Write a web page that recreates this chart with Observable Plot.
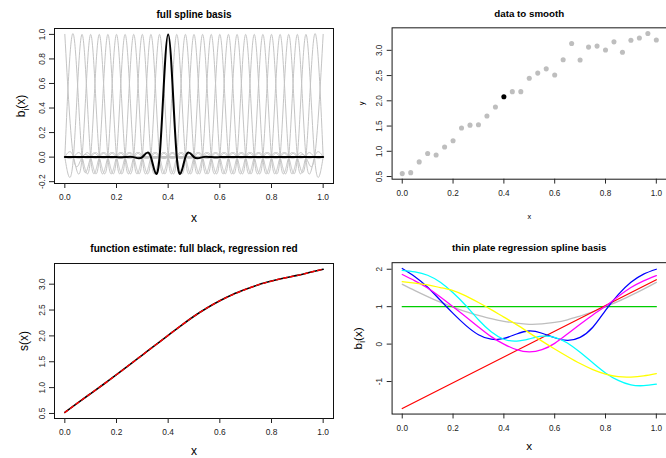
<!DOCTYPE html>
<html><head><meta charset="utf-8">
<script src="https://cdn.jsdelivr.net/npm/d3@7"></script>
<script src="https://cdn.jsdelivr.net/npm/@observablehq/plot@0.6"></script>
<style>
body{margin:0;background:#fff;}
#wrap{position:relative;width:666px;height:458px;overflow:hidden;background:#fff;}
.panel{position:absolute;}
</style></head><body><div id="wrap"></div>
<script>
// ---------- data ----------
// knots / data x positions (31 evenly spaced points)
const knotX = [0,0.0333,0.0667,0.1,0.1333,0.1667,0.2,0.2333,0.2667,0.3,0.3333,0.3667,0.4,0.4333,0.4667,0.5,0.5333,0.5667,0.6,0.6333,0.6667,0.7,0.7333,0.7667,0.8,0.8333,0.8667,0.9,0.9333,0.9667,1];
// full spline basis: each basis function is 1 at its own knot and 0 at the others
const basisAtOwnKnot = 1.0;
const basisAtOtherKnots = 0.0;
const highlightIndex = 12; // basis at x = 0.4 drawn in black

// data to smooth
const dataY = [0.558,0.577,0.79,0.957,0.925,1.086,1.209,1.46,1.518,1.524,1.698,1.879,2.079,2.182,2.182,2.446,2.549,2.633,2.51,2.813,3.135,2.807,3.064,3.084,3.006,3.168,2.961,3.2,3.245,3.335,3.206];

// function estimate
const fitX = [0,0.05,0.1,0.15,0.2,0.25,0.3,0.35,0.4,0.45,0.5,0.55,0.6,0.65,0.7,0.75,0.8,0.85,0.9,0.95,1];
const fitFull = [0.52,0.705,0.885,1.065,1.25,1.44,1.63,1.82,2.01,2.20,2.38,2.54,2.68,2.80,2.90,2.99,3.06,3.12,3.17,3.23,3.29];
const fitRegression = [0.52,0.705,0.885,1.065,1.25,1.44,1.63,1.82,2.01,2.20,2.38,2.54,2.68,2.80,2.90,2.99,3.06,3.12,3.17,3.23,3.29];

// thin plate regression spline basis
const tprsX = fitX;
const tprsGreenX = [0,1], tprsGreen = [1,1];
const tprsRedX = [0,1], tprsRed = [-1.72,1.72];
const tprsGray = [1.60,1.43,1.27,1.12,0.99,0.87,0.77,0.68,0.61,0.56,0.53,0.54,0.58,0.65,0.75,0.86,1.0,1.14,1.30,1.47,1.65];
const tprsBlue = [2.02,1.80,1.52,1.17,0.82,0.50,0.25,0.13,0.15,0.27,0.35,0.29,0.17,0.10,0.18,0.45,0.90,1.32,1.65,1.87,2.0];
const tprsCyan = [1.97,1.93,1.84,1.65,1.37,1.03,0.65,0.33,0.13,0.08,0.14,0.21,0.18,0.03,-0.22,-0.50,-0.77,-0.97,-1.09,-1.11,-1.07];
const tprsYellow = [1.67,1.63,1.58,1.51,1.43,1.29,1.11,0.92,0.72,0.52,0.30,0.08,-0.13,-0.33,-0.52,-0.68,-0.80,-0.87,-0.88,-0.85,-0.79];
const tprsMagenta = [1.86,1.69,1.50,1.26,1.0,0.73,0.46,0.20,0.0,-0.15,-0.21,-0.15,0.02,0.27,0.53,0.78,1.01,1.27,1.51,1.69,1.83];

const xTicks = [0,0.2,0.4,0.6,0.8,1.0];
const ticksP1 = [-0.2,0,0.2,0.4,0.6,0.8,1.0];
const ticksP2 = [0.5,1.0,1.5,2.0,2.5,3.0];
const ticksP4 = [-1,0,1,2];

// ---------- helpers ----------
const FONT = "'Liberation Sans', Arial, Helvetica, sans-serif";
const toRows = (xs, ys) => xs.map((x, i) => ({x, y: ys[i]}));

function makePanel(c) {
  const svg = Plot.plot({
    width: c.width, height: c.height,
    marginLeft: c.ml, marginRight: 0, marginTop: c.mt, marginBottom: c.mb,
    x: {domain: [-0.04, 1.04]}, y: {domain: c.yDomain},
    style: {fontFamily: FONT, fontSize: "8.4px", color: "#222", background: "transparent", overflow: "visible"},
    marks: [
      ...c.marks,
      Plot.frame({stroke: "#111", strokeWidth: 1}),
      Plot.axisX(xTicks, {tickSize: 5, tickPadding: 6, tickFormat: d => d.toFixed(1), label: null}),
      Plot.axisY(c.yTicks, {tickSize: 5, tickPadding: 5, tickRotate: -90, tickFormat: c.yFormat, label: null}),
      Plot.text([c.title], {frameAnchor: "top", lineAnchor: "middle", textAnchor: "middle", dy: c.titleDy, text: d => d, fontWeight: "bold", fontSize: 10, fill: "#000"}),
      Plot.text([c.xLabel], {frameAnchor: "bottom", lineAnchor: "middle", textAnchor: "middle", dy: c.xLabelDy, text: d => d, fontSize: c.labelSize, fill: "#000"}),
      Plot.text([c.yLabel], {frameAnchor: "left", lineAnchor: "middle", textAnchor: "middle", dx: c.yLabelDx, rotate: -90, text: d => d, fontSize: c.labelSize, fill: "#000"})
    ]
  });
  svg.querySelectorAll("text").forEach(t => {
    if (t.textContent === "b_i(x)") {
      const fs = c.labelSize;
      t.textContent = "";
      const ns = "http://www.w3.org/2000/svg";
      const a = document.createElementNS(ns, "tspan"); a.textContent = "b";
      const b = document.createElementNS(ns, "tspan"); b.textContent = "i";
      b.setAttribute("font-size", (fs * 0.72) + "px"); b.setAttribute("dy", (fs * 0.3) + "px");
      const d = document.createElementNS(ns, "tspan"); d.textContent = "(x)"; d.setAttribute("dy", (-fs * 0.3) + "px");
      t.append(a, b, d);
    }
  });
  const div = document.createElement("div");
  div.className = "panel";
  div.style.left = c.left + "px"; div.style.top = c.top + "px";
  div.appendChild(svg);
  document.getElementById("wrap").appendChild(div);
}

// ---------- panel 1: full spline basis ----------
const grayRows = [];
knotX.forEach((_, k) => {
  if (k === highlightIndex) return;
  knotX.forEach((x, j) => grayRows.push({k, x, y: j === k ? basisAtOwnKnot : basisAtOtherKnots}));
});
const blackRows = knotX.map((x, j) => ({x, y: j === highlightIndex ? basisAtOwnKnot : basisAtOtherKnots}));

makePanel({
  left: 0, top: 0, width: 333, height: 229, ml: 54, mt: 28, mb: 46,
  yDomain: [-0.215, 1.048], yTicks: ticksP1, yFormat: d => d.toFixed(1),
  title: "full spline basis", titleDy: -14,
  xLabel: "x", xLabelDy: 35, yLabel: "b_i(x)", yLabelDx: -33, labelSize: 12,
  marks: [
    Plot.line(grayRows, {x: "x", y: "y", z: "k", curve: "natural", stroke: "#c4c4c4", strokeWidth: 1}),
    Plot.line(blackRows, {x: "x", y: "y", curve: "natural", stroke: "#000", strokeWidth: 2})
  ]
});

// ---------- panel 2: data to smooth ----------
const pts = toRows(knotX, dataY).map((d, i) => ({...d, i}));
makePanel({
  left: 333, top: 0, width: 341, height: 229, ml: 60, mt: 28, mb: 46,
  yDomain: [0.447, 3.446], yTicks: ticksP2, yFormat: d => d.toFixed(1),
  title: "data to smooth", titleDy: -14,
  xLabel: "x", xLabelDy: 38, yLabel: "y", yLabelDx: -31, labelSize: 7.5,
  marks: [
    Plot.dot(pts.filter(d => d.i !== highlightIndex), {x: "x", y: "y", r: 2.6, fill: "#bebebe", stroke: "none"}),
    Plot.dot(pts.filter(d => d.i === highlightIndex), {x: "x", y: "y", r: 2.6, fill: "#000", stroke: "none"})
  ]
});

// ---------- panel 3: function estimate ----------
makePanel({
  left: 0, top: 229, width: 333, height: 229, ml: 54, mt: 34, mb: 40,
  yDomain: [0.403, 3.40], yTicks: ticksP2, yFormat: d => d.toFixed(1),
  title: "function estimate: full black, regression red", titleDy: -15,
  xLabel: "x", xLabelDy: 33, yLabel: "s(x)", yLabelDx: -30, labelSize: 12,
  marks: [
    Plot.line(toRows(fitX, fitFull), {x: "x", y: "y", curve: "natural", stroke: "#000", strokeWidth: 1.6}),
    Plot.line(toRows(fitX, fitRegression), {x: "x", y: "y", curve: "natural", stroke: "#ff0000", strokeWidth: 1.4, strokeDasharray: "3.5,3.5"})
  ]
});

// ---------- panel 4: thin plate regression spline basis ----------
const lineOpts = (color) => ({x: "x", y: "y", curve: "natural", stroke: color, strokeWidth: 1.3});
makePanel({
  left: 333, top: 229, width: 341, height: 229, ml: 60, mt: 34, mb: 40,
  yDomain: [-1.869, 2.175], yTicks: ticksP4, yFormat: d => String(d),
  title: "thin plate regression spline basis", titleDy: -15,
  xLabel: "x", xLabelDy: 33, yLabel: "b_i(x)", yLabelDx: -35, labelSize: 12,
  marks: [
    Plot.line(toRows(tprsX, tprsGray), lineOpts("#bebebe")),
    Plot.line(toRows(tprsGreenX, tprsGreen), lineOpts("#00cd00")),
    Plot.line(toRows(tprsRedX, tprsRed), lineOpts("#ff0000")),
    Plot.line(toRows(tprsX, tprsBlue), lineOpts("#0000ff")),
    Plot.line(toRows(tprsX, tprsCyan), lineOpts("#00ffff")),
    Plot.line(toRows(tprsX, tprsMagenta), lineOpts("#ff00ff")),
    Plot.line(toRows(tprsX, tprsYellow), lineOpts("#ffff00"))
  ]
});
</script>
</body></html>
